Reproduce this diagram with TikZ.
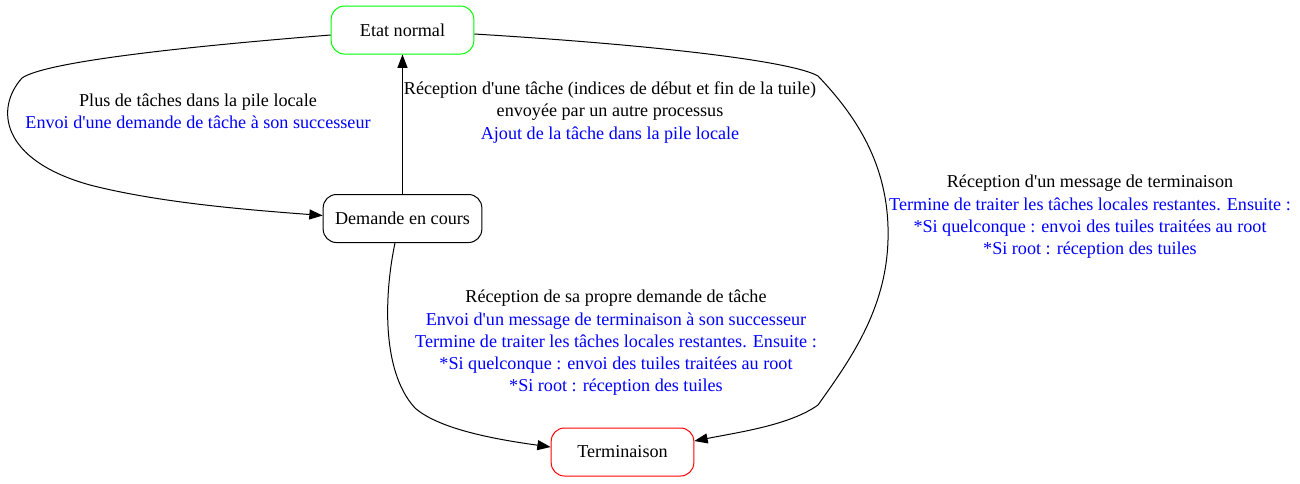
\documentclass[tikz,border=0pt]{standalone}
\usepackage{fontspec}
\setmainfont{Liberation Serif}[Ligatures=TeXOff]
\usetikzlibrary{arrows.meta,calc}

\begin{document}
\begin{tikzpicture}[
  x=0.75pt, y=-0.75pt,
  state/.style={
    draw, rounded corners=10pt, line width=0.75pt,
    minimum width=107pt, minimum height=36pt,
    inner sep=0pt, font=\fontsize{13.6}{16.5}\selectfont
  },
  lbl/.style={align=center, inner sep=0pt, font=\fontsize{13.6}{16.7}\selectfont},
  trans/.style={line width=0.75pt, -{Triangle[length=10pt, width=7.5pt]}}
]
\useasboundingbox (0,0) rectangle (1300,483);

% --- Etats ---
\node[state, draw={rgb,255:red,0;green,255;blue,0}] (etat) at (402.5,30) {Etat normal};
\node[state, minimum width=119pt] (demande) at (402.5,218.5) {Demande en cours};
\node[state, draw={rgb,255:red,255;green,0;blue,0}] (term) at (622.5,452) {Terminaison};

% --- Etiquettes ---
\node[lbl] (l1) at (198,111.5) {Plus de tâches dans la pile locale\\
  \textcolor{blue}{Envoi d'une demande de tâche à son successeur}};
\node[lbl] (l2) at (610,112.5) {Réception d'une tâche (indices de début et fin de la tuile)\\
  envoyée par un autre processus\\
  \textcolor{blue}{Ajout de la tâche dans la pile locale}};
\node[lbl] (l3) at (1090,217) {Réception d'un message de terminaison\\
  \textcolor{blue}{Termine de traiter les tâches locales restantes. Ensuite :}\\
  \textcolor{blue}{*Si quelconque : envoi des tuiles traitées au root}\\
  \textcolor{blue}{*Si root : réception des tuiles}};
\node[lbl] (l4) at (616,343) {Réception de sa propre demande de tâche\\
  \textcolor{blue}{Envoi d'un message de terminaison à son successeur}\\
  \textcolor{blue}{Termine de traiter les tâches locales restantes. Ensuite :}\\
  \textcolor{blue}{*Si quelconque : envoi des tuiles traitées au root}\\
  \textcolor{blue}{*Si root : réception des tuiles}};

% --- Transitions ---
\draw[trans] ($(etat.west)+(0,5)$) .. controls (180,47) and (45,62) .. (22,78)
  .. controls (-5,108) and (0,160) .. (90,185)
  .. controls (160,203) and (250,210) .. ($(demande.west)+(0,-3)$);
\draw[trans] (demande.north) -- (etat.south);
\draw[trans] ($(etat.east)+(0,4)$) .. controls (640,44) and (790,60) .. (818,76)
  .. controls (860,120) and (890,170) .. (888,240)
  .. controls (886,310) and (850,360) .. (818,405)
  .. controls (790,425) and (740,432) .. ($(term.east)+(0,-11)$);
\draw[trans] ($(demande.south)+(-7.5,0)$) .. controls (385,290) and (380,370) .. (415,408)
  .. controls (440,430) and (500,440) .. ($(term.west)+(0,-5)$);

\end{tikzpicture}
\end{document}
